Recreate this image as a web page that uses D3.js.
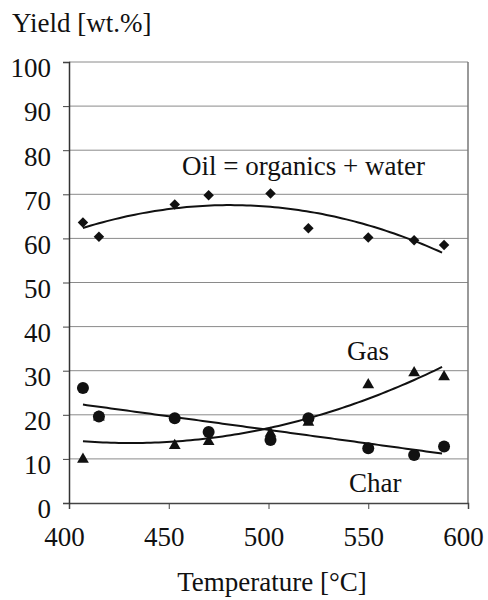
<!DOCTYPE html>
<html>
<head>
<meta charset="utf-8">
<script src="https://cdn.jsdelivr.net/npm/d3@7"></script>
<style>
  body { margin: 0; background: #fff; }
</style>
</head>
<body>
<svg id="chart" width="488" height="600"></svg>
<script>
// Data
const temps = [407, 415, 453, 470, 501, 520, 550, 573, 588];
const oil = [63.6, 60.4, 67.7, 69.8, 70.2, 62.3, 60.2, 59.6, 58.5];
const gas = [9.9, 19.5, 13.0, 13.9, 15.8, 18.3, 26.8, 29.5, 28.6];
const charY = [26.1, 19.6, 19.2, 16.1, 14.3, 19.2, 12.4, 10.9, 12.8];
const xTicks = [400, 450, 500, 550, 600];
const yTicks = [0, 10, 20, 30, 40, 50, 60, 70, 80, 90, 100];

const FONT = "'Liberation Serif', 'Times New Roman', Times, serif";

const svg = d3.select('#chart');
const x = d3.scaleLinear().domain([400, 600]).range([69, 468]);
const y = d3.scaleLinear().domain([0, 100]).range([503, 62]);

// least squares polynomial trendline (like a spreadsheet trendline)
function polyfit(xs, ys, deg) {
  const n = deg + 1;
  const x0 = d3.mean(xs);
  const A = [], b = [];
  for (let i = 0; i < n; i++) {
    A.push(new Array(n).fill(0));
    b.push(0);
  }
  xs.forEach((xv, k) => {
    const t = xv - x0;
    for (let i = 0; i < n; i++) {
      for (let j = 0; j < n; j++) A[i][j] += Math.pow(t, i + j);
      b[i] += ys[k] * Math.pow(t, i);
    }
  });
  // gaussian elimination
  for (let i = 0; i < n; i++) {
    let p = i;
    for (let r = i + 1; r < n; r++) if (Math.abs(A[r][i]) > Math.abs(A[p][i])) p = r;
    [A[i], A[p]] = [A[p], A[i]];
    [b[i], b[p]] = [b[p], b[i]];
    for (let r = i + 1; r < n; r++) {
      const f = A[r][i] / A[i][i];
      for (let c = i; c < n; c++) A[r][c] -= f * A[i][c];
      b[r] -= f * b[i];
    }
  }
  const coef = new Array(n).fill(0);
  for (let i = n - 1; i >= 0; i--) {
    let s = b[i];
    for (let c = i + 1; c < n; c++) s -= A[i][c] * coef[c];
    coef[i] = s / A[i][i];
  }
  return xv => coef.reduce((s, c, i) => s + c * Math.pow(xv - x0, i), 0);
}

// grid
svg.append('g')
  .selectAll('line')
  .data(yTicks.filter(d => d > 0))
  .join('line')
  .attr('x1', x(400)).attr('x2', x(600))
  .attr('y1', d => y(d)).attr('y2', d => y(d))
  .attr('stroke', '#8a8a8a').attr('stroke-width', 1);

// right border
svg.append('line')
  .attr('x1', x(600)).attr('x2', x(600))
  .attr('y1', y(100)).attr('y2', y(0))
  .attr('stroke', '#777').attr('stroke-width', 1.5);

// axes
const xAxis = svg.append('g')
  .attr('transform', `translate(0,${y(0)})`)
  .call(d3.axisBottom(x).tickValues(xTicks).tickSize(6).tickPadding(18));
xAxis.attr('font-family', null);
xAxis.select('.domain').attr('stroke', '#444').attr('stroke-width', 1.5);
xAxis.selectAll('.tick line').attr('stroke', '#444');
xAxis.selectAll('text').style('font-family', FONT).attr('font-size', 27).attr('dx', -5).attr('fill', '#111');

const yAxis = svg.append('g')
  .attr('transform', `translate(${x(400)},0)`)
  .call(d3.axisLeft(y).tickValues(yTicks).tickSize(6).tickPadding(12));
yAxis.attr('font-family', null);
yAxis.select('.domain').attr('stroke', '#333').attr('stroke-width', 1.5);
yAxis.selectAll('.tick line').attr('stroke', '#444');
yAxis.selectAll('text').style('font-family', FONT).attr('font-size', 27).attr('dy', '0.55em').attr('fill', '#111');

// trendlines
const series = [
  { vals: oil, deg: 2 },
  { vals: gas, deg: 2 },
  { vals: charY, deg: 1 }
];
const line = d3.line().x(d => x(d[0])).y(d => y(d[1]));
series.forEach(s => {
  const f = polyfit(temps, s.vals, s.deg);
  const pts = d3.range(temps[0], temps[temps.length - 1] + 0.01, 2).map(t => [t, f(t)]);
  svg.append('path')
    .attr('d', line(pts))
    .attr('fill', 'none')
    .attr('stroke', '#111')
    .attr('stroke-width', 2);
});

// markers
const pts = vals => temps.map((t, i) => [t, vals[i]]);
svg.append('g').selectAll('path')
  .data(pts(oil))
  .join('path')
  .attr('d', d3.symbol(d3.symbolDiamond2, 70))
  .attr('transform', d => `translate(${x(d[0])},${y(d[1])})`)
  .attr('fill', '#111');

svg.append('g').selectAll('path')
  .data(pts(gas))
  .join('path')
  .attr('d', d3.symbol(d3.symbolTriangle, 60))
  .attr('transform', d => `translate(${x(d[0])},${y(d[1])})`)
  .attr('fill', '#111');

svg.append('g').selectAll('circle')
  .data(pts(charY))
  .join('circle')
  .attr('cx', d => x(d[0]))
  .attr('cy', d => y(d[1]))
  .attr('r', 6)
  .attr('fill', '#111');

// labels
function label(tx, ty, s, anchor) {
  svg.append('text')
    .attr('x', tx).attr('y', ty)
    .attr('text-anchor', anchor || 'start')
    .attr('font-size', 27)
    .attr('fill', '#111')
    .style('font-family', FONT)
    .text(s);
}
label(12, 32, 'Yield [wt.%]');
label(272, 591, 'Temperature [°C]', 'middle');
label(182, 175, 'Oil = organics + water');
label(347, 360, 'Gas');
label(349, 492, 'Char');
</script>
</body>
</html>
